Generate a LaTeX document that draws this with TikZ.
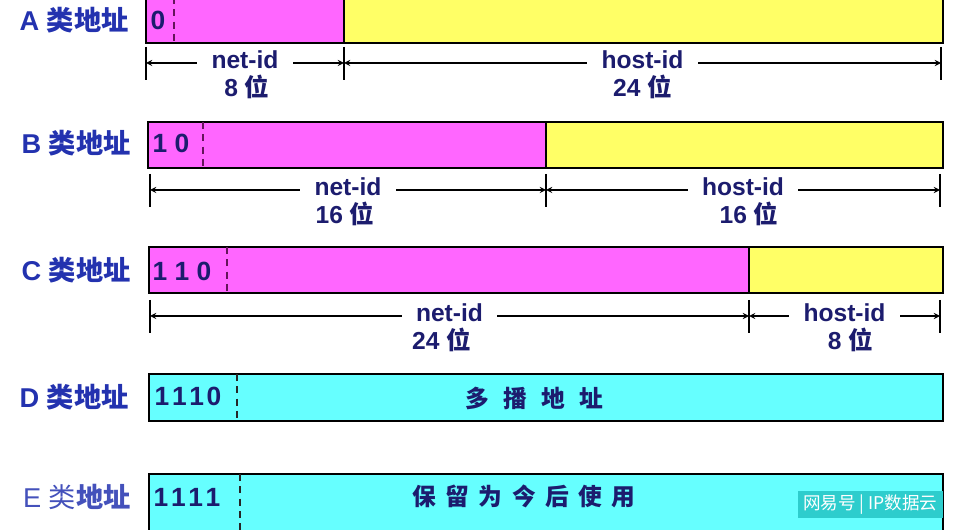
\documentclass[tikz,border=0pt]{standalone}
\usepackage{fontspec}
\setmainfont{Liberation Sans}
\newfontfamily\cjk{Noto Sans CJK SC}
\usepackage{tikz}
\usetikzlibrary{arrows,positioning,calc}

\definecolor{netpink}{RGB}{255,102,255}
\definecolor{hostyellow}{RGB}{255,255,102}
\definecolor{groupcyan}{RGB}{102,255,255}
\definecolor{labelblue}{RGB}{35,50,175}
\definecolor{idnavy}{RGB}{28,28,110}
\definecolor{dashpurple}{RGB}{100,20,90}
\definecolor{markcyan}{RGB}{45,205,205}

\begin{document}
\begin{tikzpicture}[x=0.02cm, y=-0.02cm,
    field/.style={draw=black, line width=1.2pt},
    netfield/.style={field, fill=netpink},
    hostfield/.style={field, fill=hostyellow},
    groupfield/.style={field, fill=groupcyan},
    divider/.style={dashed, dash pattern=on 4pt off 3pt, line width=0.9pt, draw=dashpurple},
    classname/.style={anchor=east, inner sep=0pt, text=labelblue, font=\fontsize{15.5}{18}\selectfont\bfseries},
    leadbits/.style={inner sep=0pt, text=idnavy, font=\fontsize{15}{17}\selectfont\bfseries},
    usage/.style={inner sep=0pt, text=idnavy, font=\cjk\fontsize{13.5}{16}\selectfont\bfseries},
    idlabel/.style={fill=white, inner xsep=8pt, inner ysep=1pt, yshift=2pt, text=idnavy, font=\fontsize{14}{16}\selectfont\bfseries},
    bitlabel/.style={inner sep=0pt, text=idnavy, font=\fontsize{14}{16}\selectfont\bfseries},
    dim/.style={<->, >=stealth, line width=0.6pt},
    tick/.style={line width=0.8pt}
]
\clip (0,0) rectangle (961,530);

% Class names
\node[classname] (aname) at (129,20) {A {\cjk 类地址}};
\node[classname] (bname) at (131,143) {B {\cjk 类地址}};
\node[classname] (cname) at (131,270) {C {\cjk 类地址}};
\node[classname] (dname) at (129,397) {D {\cjk 类地址}};
\node[classname, text=labelblue!85] (ename) at (131,497) {\mdseries E {\cjk 类}\bfseries{\cjk 地址}};

% Class A
\draw[netfield] (146,-3) rectangle (344,43);
\draw[hostfield] (344,-3) rectangle (943,43);
\draw[divider] (174,-3) -- (174,43);
\node[leadbits] (abits) at (158,20) {0};

% Class B
\draw[netfield] (148,122) rectangle (546,168);
\draw[hostfield] (546,122) rectangle (943,168);
\draw[divider] (203,122) -- (203,168);
\node[leadbits] (bbits) at (171,143) {1 0};

% Class C
\draw[netfield] (149,247) rectangle (749,293);
\draw[hostfield] (749,247) rectangle (943,293);
\draw[divider] (227,247) -- (227,293);
\node[leadbits] (cbits) at (182,271) {1 1 0};

% Class D
\draw[groupfield] (149,374) rectangle (943,421);
\draw[divider, draw=black!85] (237,374) -- (237,421);
\node[leadbits] (dbits) at (188,396) {1\kern1.5pt1\kern1.5pt1\kern1.5pt0};
\node[usage] (dusage) at (534,398) {多\hspace{0.6em}播\hspace{0.6em}地\hspace{0.6em}址};

% Class E
\draw[groupfield] (149,474) rectangle (943,545);
\draw[divider, draw=black!85] (240,474) -- (240,530);
\node[leadbits] (ebits) at (187,497) {1\kern1.5pt1\kern1.5pt1\kern1.5pt1};
\node[usage] (eusage) at (524,496) {保\hspace{0.4em}留\hspace{0.4em}为\hspace{0.4em}今\hspace{0.4em}后\hspace{0.4em}使\hspace{0.4em}用};

% Dimension lines
\coordinate (a0) at (146,63);
\coordinate (a1) at (344,63);
\coordinate (a2) at (941,63);
\coordinate (b0) at (150,190);
\coordinate (b1) at (546,190);
\coordinate (b2) at (940,190);
\coordinate (c0) at (150,316);
\coordinate (c1) at (749,316);
\coordinate (c2) at (940,316);
\foreach \c in {a0,a1,a2,b0,b1,b2,c0,c1,c2}
    \draw[tick] ($(\c)+(0,-16)$) -- ($(\c)+(0,17)$);

\draw[dim] (a0) -- node[idlabel] (anet) {net-id} (a1);
\draw[dim] (a1) -- node[idlabel] (ahost) {host-id} (a2);
\draw[dim] (b0) -- node[idlabel] (bnet) {net-id} (b1);
\draw[dim] (b1) -- node[idlabel] (bhost) {host-id} (b2);
\draw[dim] (c0) -- node[idlabel] (cnet) {net-id} (c1);
\draw[dim] (c1) -- node[idlabel] (chost) {host-id} (c2);

\node[bitlabel] (anetlen) at ($(anet)+(2,27)$) {8 {\cjk 位}};
\node[bitlabel] (ahostlen) at ($(ahost)+(0,27)$) {24 {\cjk 位}};
\node[bitlabel] (bnetlen) at ($(bnet)+(-3,27)$) {16 {\cjk 位}};
\node[bitlabel] (bhostlen) at ($(bhost)+(6,27)$) {16 {\cjk 位}};
\node[bitlabel] (cnetlen) at ($(cnet)+(-8,27)$) {24 {\cjk 位}};
\node[bitlabel] (chostlen) at ($(chost)+(6,27)$) {8 {\cjk 位}};

% Watermark
\node[anchor=south east, fill=markcyan, text=white, inner xsep=3pt, inner ysep=2pt,
      font=\cjk\fontsize{10}{12}\selectfont] (mark) at (943,518) {网易号 | IP数据云};
\end{tikzpicture}
\end{document}
